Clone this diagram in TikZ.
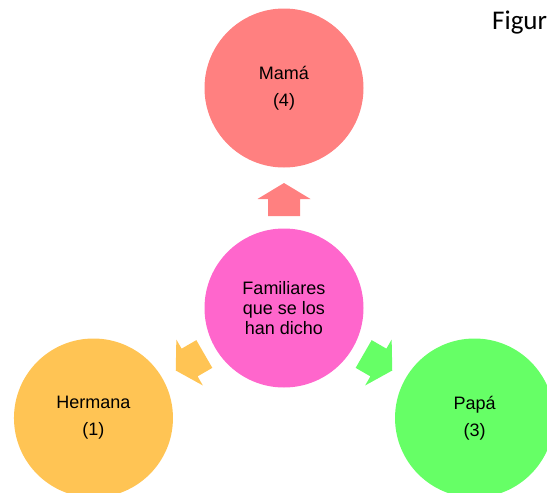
\documentclass[tikz,border=0pt]{standalone}
\usepackage{fontspec}
\setmainfont{Liberation Sans}
\newfontfamily\captionfont{Carlito}
\usetikzlibrary{calc,positioning}
\definecolor{mamared}{RGB}{255,128,128}
\definecolor{centrepink}{RGB}{255,102,204}
\definecolor{hermorange}{RGB}{255,196,84}
\definecolor{papagreen}{RGB}{102,255,102}
\tikzset{
  bubble/.style={circle,minimum size=159pt,inner sep=0pt,align=center,
                 font=\fontsize{18}{20}\selectfont},
  blockarr/.style={line join=miter}
}
\begin{document}
\begin{tikzpicture}[x=1pt,y=1pt]
  \useasboundingbox (0,0) rectangle (547,-493);
  \clip (0,0) rectangle (547,-493);
  \node[bubble,fill=centrepink] (fam) at (284,-308) {Familiares\\que se los\\han dicho};
  \node[bubble,fill=mamared]    (mama) at ($(fam)+(90:220)$)  {Mamá\\[7pt](4)};
  \node[bubble,fill=hermorange] (herm) at ($(fam)+(210:220)$) {Hermana\\[7pt](1)};
  \node[bubble,fill=papagreen]  (papa) at ($(fam)+(330:220)$) {Papá\\[7pt](3)};
  \foreach \a/\c in {90/mamared,210/hermorange,330/papagreen}{
    \fill[blockarr,\c,shift={($(fam)+(\a:108)$)},rotate=\a]
      (17,0) -- (1,26.5) -- (1,16) -- (-16,16) -- (-16,-16) -- (1,-16) -- (1,-26.5) -- cycle;
  }
  \node[anchor=base west,inner sep=0pt,font=\captionfont\fontsize{27}{30}\selectfont] (fig) at (492,-29) {Figur};
\end{tikzpicture}
\end{document}
